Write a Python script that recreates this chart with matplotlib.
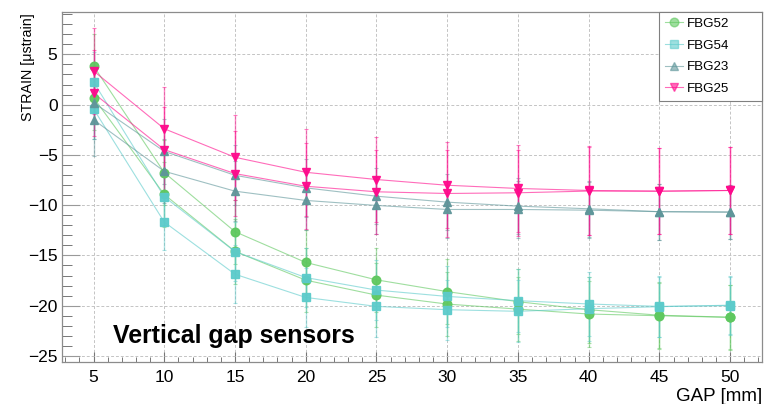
import matplotlib
matplotlib.use("Agg")
import matplotlib.pyplot as plt
from matplotlib.ticker import MultipleLocator

plt.rcParams['font.family'] = ['Liberation Sans', 'DejaVu Sans']

# Gap settings [mm]
gap = [5, 10, 15, 20, 25, 30, 35, 40, 45, 50]

# Strain readings [ustrain], two runs per sensor
fbg52_a = [3.85, -6.76, -12.64, -15.70, -17.43, -18.60, -19.60, -20.40, -20.95, -21.15]
fbg52_b = [0.70, -8.94, -14.60, -17.46, -18.95, -19.84, -20.34, -20.83, -21.00, -21.16]
fbg54_a = [2.26, -9.17, -14.62, -17.20, -18.45, -19.08, -19.50, -19.83, -20.07, -20.00]
fbg54_b = [-0.42, -11.68, -16.87, -19.18, -20.07, -20.40, -20.56, -20.30, -20.10, -19.95]
fbg23_a = [0.20, -4.65, -7.03, -8.28, -9.11, -9.70, -10.10, -10.36, -10.65, -10.69]
fbg23_b = [-1.50, -6.63, -8.61, -9.53, -10.03, -10.43, -10.43, -10.50, -10.65, -10.69]
fbg25_a = [3.35, -2.40, -5.24, -6.73, -7.45, -8.02, -8.34, -8.54, -8.61, -8.54]
fbg25_b = [1.14, -4.48, -6.86, -8.12, -8.67, -8.84, -8.77, -8.60, -8.61, -8.54]

# Uncertainties [ustrain]
err52 = [3.2, 3.2, 3.2, 3.2, 3.2, 3.2, 3.2, 3.3, 3.3, 3.2]
err54 = [3.0, 2.8, 2.9, 2.9, 3.0, 3.0, 3.1, 3.2, 3.0, 2.9]
err23 = [3.6, 3.2, 3.0, 2.9, 2.8, 2.8, 2.8, 2.8, 2.8, 2.7]
err25 = [4.3, 4.2, 4.2, 4.3, 4.2, 4.3, 4.3, 4.4, 4.3, 4.3]

labels = ["FBG52", "FBG54", "FBG23", "FBG25"]
colors = ["#5fc85f", "#5ccbcb", "#5f969a", "#ff0a8c"]
markers = ["o", "s", "^", "v"]
series = [(fbg52_a, fbg52_b, err52), (fbg54_a, fbg54_b, err54),
          (fbg23_a, fbg23_b, err23), (fbg25_a, fbg25_b, err25)]

fig = plt.figure(figsize=(7.7, 4.04), dpi=100)
ax = fig.add_axes([0.0801, 0.104, 0.9095, 0.866])

handles = []
for (ya, yb, err), lab, col, mk in zip(series, labels, colors, markers):
    for y in (ya, yb):
        ax.errorbar(gap, y, yerr=err, fmt='none', ecolor=col, elinewidth=1.0,
                    capsize=1.5, capthick=0.8, alpha=0.5, zorder=2)
        ax.plot(gap, y, '-', color=col, lw=0.8, alpha=0.6, zorder=3)
        ax.plot(gap, y, linestyle='none', marker=mk, ms=6.2, color=col,
                mec=col, alpha=0.95, zorder=4)
    h, = ax.plot([], [], '-', color=col, lw=0.8, alpha=0.6, marker=mk,
                 ms=6.2, mec=col, label=lab)
    handles.append(h)

ax.set_xlim(2.75, 52.25)
ax.set_ylim(-25.6, 9.2)

ax.xaxis.set_major_locator(MultipleLocator(5))
ax.xaxis.set_minor_locator(MultipleLocator(1))
ax.yaxis.set_major_locator(MultipleLocator(5))
ax.yaxis.set_minor_locator(MultipleLocator(1))

ax.grid(True, which='major', linestyle=(0, (3, 2)), color='#c4c4c4', lw=0.7, zorder=0)
ax.set_axisbelow(True)

for s in ax.spines.values():
    s.set_color('#8c8c8c')
    s.set_linewidth(0.9)

ax.tick_params(axis='x', which='major', direction='in', length=7, width=0.8,
               color='#777777', labelsize=12.5, pad=6)
ax.tick_params(axis='x', which='minor', direction='in', length=3.6, width=0.7,
               color='#777777')
ax.tick_params(axis='y', which='major', direction='in', length=13, width=0.8,
               color='#999999', labelsize=12.5, pad=3)
ax.tick_params(axis='y', which='minor', direction='in', length=7, width=0.7,
               color='#777777')
ax.tick_params(top=False, right=False, which='both')

ax.set_xlabel("GAP [mm]", fontsize=13.5, ha='right')
ax.xaxis.set_label_coords(1.0, -0.075)
ax.set_ylabel("STRAIN [\u03bcstrain]", fontsize=10.3, ha='right', va='center')
ax.yaxis.set_label_coords(-0.048, 0.997)

ax.text(0.0733, 0.053, "Vertical gap sensors", transform=ax.transAxes,
        fontsize=17.9, fontweight='bold', ha='left', va='baseline', zorder=6)

leg = ax.legend(handles=handles, loc='upper left', bbox_to_anchor=(0.853, 0.0, 0.147, 1.0),
                mode='expand', borderaxespad=0.0, fontsize=9.6, frameon=True,
                fancybox=False, framealpha=1.0, edgecolor='#808080',
                handlelength=1.4, handletextpad=0.3, labelspacing=0.7,
                borderpad=0.42)
leg.get_frame().set_linewidth(0.8)
leg.set_zorder(7)

fig.savefig("out.png", dpi=100)
